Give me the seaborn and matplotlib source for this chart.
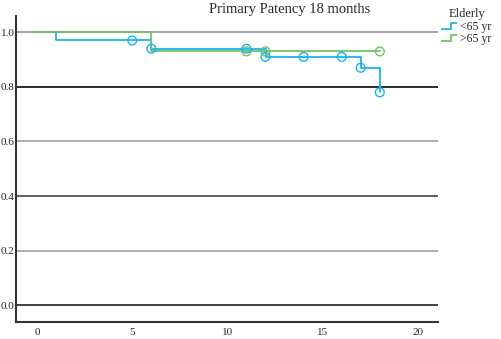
import numpy as np
import pandas as pd
import seaborn as sns
import matplotlib.pyplot as plt
from matplotlib.lines import Line2D
from matplotlib.path import Path

sns.set_style('white')
plt.rcParams['font.family'] = ['Liberation Serif', 'DejaVu Serif']

# 生存曲线数据
young_t = [0, 1, 6, 12, 17, 18]
young_s = [1.0, 0.97, 0.94, 0.91, 0.87, 0.78]
young_cens_t = [5, 6, 11, 12, 14, 16, 17, 18]
young_cens_s = [0.97, 0.94, 0.94, 0.91, 0.91, 0.91, 0.87, 0.78]

old_t = [0, 6, 18]
old_s = [1.0, 0.93, 0.93]
old_cens_t = [11, 12, 18]
old_cens_s = [0.93, 0.93, 0.93]

blue = '#1AB4EE'
green = '#74C167'

fig = plt.figure(figsize=(5.01, 3.39), dpi=100)
ax = fig.add_axes([0.032, 0.050, 0.842, 0.903])

# 网格线
grid_y = [1.0, 0.8, 0.6, 0.4, 0.2, 0.0]
grid_c = ['#9a9a9a', '#1a1a1a', '#a8a8a8', '#555555', '#a8a8a8', '#333333']
for gy, gc in zip(grid_y, grid_c):
    ax.axhline(gy, color=gc, lw=1.3, zorder=0)

sns.lineplot(x=young_t, y=young_s, drawstyle='steps-post', color=blue, lw=1.3, ax=ax)
sns.lineplot(x=old_t, y=old_s, drawstyle='steps-post', color=green, lw=1.3, ax=ax)
sns.scatterplot(x=old_cens_t, y=old_cens_s, marker='o', s=40, facecolor='none',
                edgecolor=green, linewidth=1.0, ax=ax, zorder=5)
sns.scatterplot(x=young_cens_t, y=young_cens_s, marker='o', s=40, facecolor='none',
                edgecolor=blue, linewidth=1.0, ax=ax, zorder=5)

ax.set_xlim(-1.1, 21.05)
ax.set_ylim(-0.062, 1.06)
ax.set_xticks([0, 5, 10, 15, 20])
ax.set_yticks([0.0, 0.2, 0.4, 0.6, 0.8, 1.0])
ax.set_yticklabels(['0.0', '0.2', '0.4', '0.6', '0.8', '1.0'])
ax.tick_params(axis='x', length=3, width=1, color='#333333', labelsize=8, pad=1)
ax.tick_params(axis='y', length=0, labelsize=8, pad=1)
for sp in ['top', 'right']:
    ax.spines[sp].set_visible(False)
for sp in ['left', 'bottom']:
    ax.spines[sp].set_color('#333333')
    ax.spines[sp].set_linewidth(1.5)

fig.text(0.579, 0.972, 'Primary Patency 18 months', ha='center', va='center', fontsize=10.5)

# 图例（阶梯形符号）
step = Path([(-1, -0.45), (0.3, -0.45), (0.3, 0.45), (1, 0.45)],
            [Path.MOVETO, Path.LINETO, Path.LINETO, Path.LINETO])
handles = [Line2D([], [], marker=step, linestyle='none', markersize=11,
                  markerfacecolor='none', markeredgecolor=c, markeredgewidth=1.3)
           for c in [blue, green]]
leg = fig.legend(handles, ['<65 yr', '>65 yr'], title='Elderly', loc='upper left',
                 bbox_to_anchor=(0.866, 1.0), frameon=False, fontsize=8.5,
                 title_fontsize=9, handlelength=1.2, handletextpad=0.3,
                 labelspacing=0.05, borderpad=0.2)

fig.savefig('out.png', dpi=100)
